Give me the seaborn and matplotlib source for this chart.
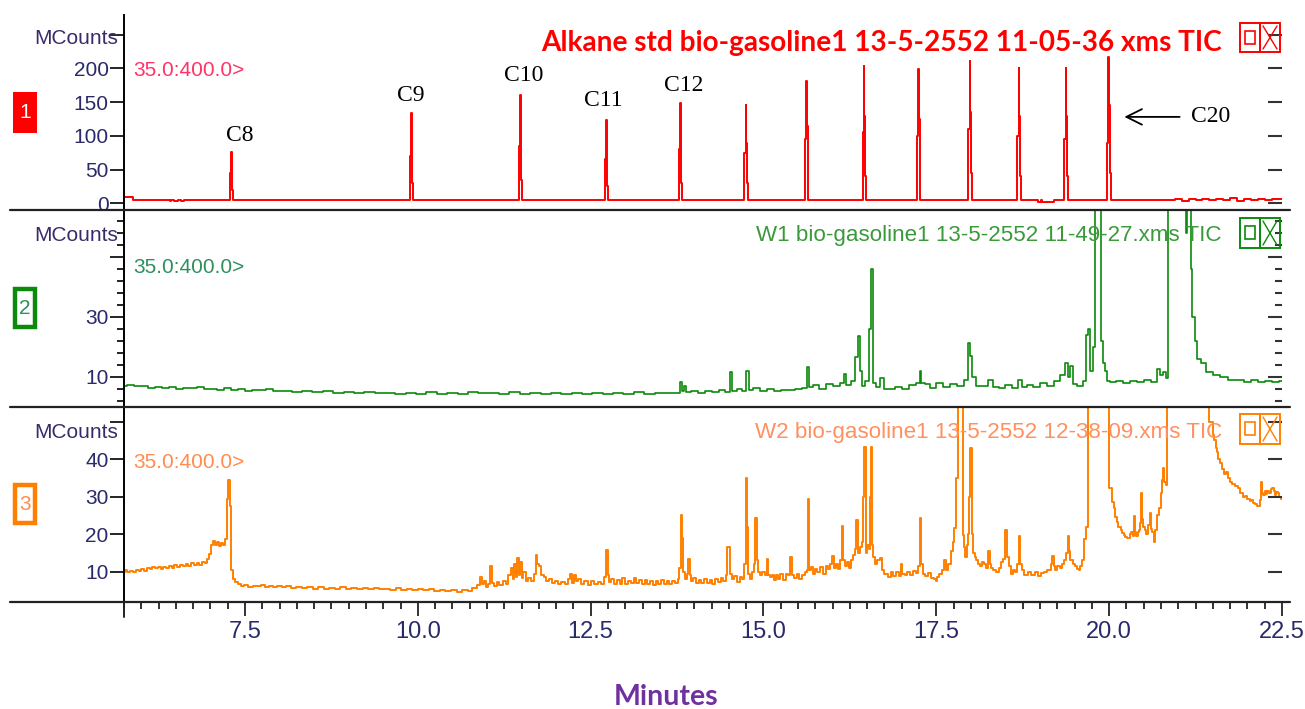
import matplotlib
matplotlib.use("Agg")
import matplotlib.pyplot as plt
from matplotlib.patches import Rectangle
from matplotlib.lines import Line2D
from matplotlib.ticker import MultipleLocator, FixedLocator
import seaborn as sns

# ---------------- data ----------------
x_ticks = [7.5, 10.0, 12.5, 15.0, 17.5, 20.0, 22.5]

red_t = [5.75, 5.87, 5.88, 6.3, 6.4, 6.42, 6.45, 6.5, 6.55, 6.6, 6.65, 6.7, 7.0, 7.27,
         7.295, 7.305, 7.315, 7.322, 7.34,
         7.6, 8.2, 8.8, 9.4, 9.87,
         9.895, 9.905, 9.915, 9.922, 9.94,
         10.4, 11.0, 11.45,
         11.475, 11.485, 11.495, 11.502, 11.52,
         12.0, 12.69,
         12.715, 12.725, 12.735, 12.742, 12.76,
         13.2, 13.76,
         13.785, 13.795, 13.805, 13.812, 13.83,
         14.3, 14.71,
         14.735, 14.745, 14.755, 14.762, 14.78,
         15.2, 15.59,
         15.615, 15.625, 15.635, 15.642, 15.66,
         16.0, 16.42,
         16.445, 16.455, 16.465, 16.472, 16.49,
         16.9, 17.21,
         17.235, 17.245, 17.255, 17.262, 17.28,
         17.6, 17.95,
         17.975, 17.985, 17.995, 18.002, 18.02,
         18.3, 18.66,
         18.685, 18.695, 18.705, 18.712, 18.73,
         18.95, 19.0, 19.02, 19.05, 19.34,
         19.365, 19.375, 19.385, 19.392, 19.41,
         19.7, 19.96,
         19.985, 19.995, 20.005, 20.012, 20.03,
         20.4, 20.9, 21.0, 21.1, 21.2, 21.3, 21.4, 21.5, 21.6, 21.7, 21.8, 21.9, 22.0,
         22.1, 22.2, 22.3, 22.4, 22.5]
red_v = [9.8, 9.8, 5.5, 5.2, 5.0, 3.0, 5.0, 3.2, 5.0, 3.0, 5.0, 4.8, 4.8, 4.7,
         45, 76, 57, 20, 4.6,
         4.6, 4.5, 4.6, 4.4, 4.4,
         70, 134, 85, 30, 4.5,
         4.5, 4.4, 4.5,
         85, 160, 100, 35, 4.5,
         4.5, 4.4,
         65, 123, 80, 25, 4.4,
         4.5, 4.4,
         80, 148, 95, 30, 4.4,
         4.5, 4.4,
         75, 145, 90, 30, 4.4,
         4.5, 4.5,
         95, 181, 115, 40, 4.4,
         4.5, 4.4,
         105, 203, 130, 40, 4.4,
         4.5, 4.4,
         100, 199, 125, 40, 4.4,
         4.5, 4.4,
         110, 211, 135, 45, 4.4,
         4.5, 4.4,
         100, 200, 130, 40, 4.5,
         4.5, 2.5, 4.5, 2.5, 4.4,
         95, 200, 130, 40, 4.4,
         4.5, 4.4,
         90, 217, 145, 45, 4.4,
         4.5, 4.6, 6.5, 4.0, 6.8, 4.2, 7.0, 4.5, 6.6, 4.2, 7.2, 4.0, 6.8,
         4.3, 7.0, 4.5, 6.9, 6.5]

green_t = [5.75, 5.85, 5.95, 6.05, 6.15, 6.25, 6.35, 6.45, 6.55, 6.65, 6.75, 6.85, 6.95,
           7.05, 7.15, 7.25, 7.35, 7.45, 7.55, 7.65, 7.75, 7.85, 7.95, 8.1, 8.25, 8.4,
           8.55, 8.7, 8.85, 9.0, 9.15, 9.3, 9.45, 9.6, 9.75, 9.9, 10.05, 10.2, 10.35,
           10.5, 10.65, 10.8, 10.95, 11.1, 11.25, 11.4, 11.55, 11.7, 11.85, 12.0, 12.15,
           12.3, 12.45, 12.6, 12.75, 12.9, 13.05, 13.2, 13.35, 13.5, 13.65, 13.78, 13.8,
           13.83, 13.86, 13.9, 14.0, 14.1, 14.2, 14.3, 14.4, 14.5, 14.53, 14.57, 14.65,
           14.72, 14.77, 14.81, 14.9, 15.0, 15.1, 15.2, 15.3, 15.4, 15.5, 15.6, 15.65,
           15.68, 15.75, 15.85, 15.95, 16.05, 16.15, 16.18, 16.22, 16.3, 16.35, 16.38,
           16.41, 16.45, 16.5, 16.55, 16.57, 16.6, 16.65, 16.72, 16.76, 16.85, 16.95,
           17.05, 17.15, 17.25, 17.27, 17.3, 17.38, 17.45, 17.55, 17.65, 17.75, 17.85,
           17.95, 17.98, 18.0, 18.04, 18.1, 18.2, 18.3, 18.35, 18.45, 18.55, 18.65,
           18.72, 18.76, 18.85, 18.95, 19.05, 19.15, 19.25, 19.33, 19.38, 19.42, 19.45,
           19.5, 19.58, 19.65, 19.69, 19.71, 19.74, 19.78, 19.8, 19.84, 19.87, 19.89,
           19.92, 19.95, 19.98, 20.05, 20.15, 20.25, 20.35, 20.45, 20.55, 20.65, 20.72,
           20.76, 20.8, 20.84, 20.87, 21.1, 21.12, 21.14, 21.17, 21.19, 21.22, 21.25,
           21.3, 21.36, 21.45, 21.55, 21.65, 21.8, 21.9, 22.0, 22.1, 22.2, 22.3, 22.4,
           22.5]
green_v = [7.0, 7.2, 6.8, 6.9, 6.4, 6.6, 6.2, 6.6, 6.0, 6.3, 6.1, 6.5, 5.8,
           6.0, 5.6, 6.2, 5.7, 5.9, 5.4, 5.6, 5.5, 5.8, 5.2, 5.4, 5.0, 5.3,
           4.9, 5.1, 4.7, 5.0, 4.6, 4.9, 4.5, 4.7, 4.3, 4.6, 4.4, 4.8, 4.3,
           4.6, 4.4, 4.9, 4.5, 4.7, 4.3, 4.8, 4.4, 4.6, 4.3, 4.5, 4.2,
           4.6, 4.3, 4.7, 4.4, 4.6, 4.3, 4.8, 4.4, 4.6, 4.5, 4.7, 8.3,
           5.2, 7.0, 5.0, 5.2, 4.6, 5.4, 4.9, 5.6, 5.0, 11.5, 5.4, 5.8,
           5.2, 11.8, 5.6, 6.3, 5.4, 5.9, 5.3, 5.7, 5.5, 5.9, 6.2, 13.3,
           6.5, 7.2, 6.0, 7.5, 6.8, 8.0, 11.0, 7.2, 8.5, 16.5, 23.5,
           12.0, 7.0, 8.5, 26.0, 46.0, 8.0, 6.5, 9.5, 6.0, 5.8, 6.6,
           5.9, 7.2, 8.0, 12.0, 8.0, 7.5, 6.3, 7.8, 6.5, 7.6, 6.8,
           9.0, 21.3, 17.0, 10.0, 7.0, 6.8, 9.0, 6.5, 6.2, 7.2, 6.4,
           9.0, 6.5, 7.3, 6.7, 7.8, 7.0, 8.5, 10.5, 14.5, 10.0, 13.5,
           7.5, 7.0, 8.5, 24.0, 26.0, 12.0, 20.0, 100, 100, 100, 22.0,
           14.5, 12.0, 8.5, 8.3, 8.6, 8.0, 8.7, 8.2, 8.9, 8.3, 12.5,
           10.5, 11.5, 9.5, 100, 100, 58, 100, 100, 46, 30, 22,
           16, 14.5, 11.5, 10.5, 10.0, 9.0, 8.8, 8.4, 8.8, 8.3, 8.6, 8.4,
           8.5]

orange_pts = [
    (5.75, 9.8), (5.78, 10.4), (5.82, 9.9), (5.86, 10.2), (5.9, 9.8), (5.94, 10.5), (5.98, 10.1),
    (6.02, 10.6), (6.06, 10.2), (6.1, 11.0), (6.14, 10.6), (6.18, 11.3), (6.22, 10.9), (6.26, 11.2),
    (6.3, 10.8), (6.34, 11.3), (6.38, 11.0), (6.42, 11.5), (6.46, 11.1), (6.5, 11.7), (6.54, 11.2),
    (6.58, 11.8), (6.62, 11.4), (6.66, 12.0), (6.7, 11.5), (6.74, 12.2), (6.78, 11.7), (6.82, 12.3),
    (6.86, 11.8), (6.9, 12.5), (6.94, 12.2), (6.97, 13.4), (7.0, 14.6), (7.03, 17.2), (7.05, 18.3),
    (7.08, 17.0), (7.11, 17.8), (7.14, 16.9), (7.17, 17.6), (7.2, 17.0), (7.23, 18.6), (7.25, 29.5),
    (7.27, 34.5), (7.29, 27.5), (7.31, 10.5), (7.34, 8.0), (7.38, 7.2), (7.42, 6.6),
    (7.46, 6.2), (7.52, 6.5), (7.58, 6.0), (7.64, 6.3), (7.7, 6.1), (7.76, 6.5), (7.82, 6.0),
    (7.88, 6.2), (7.94, 5.9), (8.0, 6.3), (8.06, 5.9), (8.12, 6.1), (8.2, 5.7), (8.28, 6.0),
    (8.36, 5.6), (8.44, 5.9), (8.52, 5.5), (8.6, 5.8), (8.68, 5.4), (8.76, 5.7), (8.84, 5.5),
    (8.92, 5.8), (9.0, 5.4), (9.08, 5.7), (9.16, 5.3), (9.24, 5.6), (9.32, 5.4), (9.4, 5.7),
    (9.48, 5.3), (9.56, 5.5), (9.64, 5.2), (9.72, 5.6), (9.8, 5.2), (9.88, 5.5), (9.96, 5.1),
    (10.04, 5.4), (10.12, 5.0), (10.2, 5.3), (10.28, 4.9), (10.36, 5.2), (10.44, 4.8), (10.52, 5.1),
    (10.6, 4.7), (10.68, 5.0), (10.76, 4.8), (10.82, 5.6),
    (10.88, 6.5), (10.91, 8.5), (10.94, 6.8), (10.97, 7.4), (11.0, 6.0), (11.03, 6.6), (11.06, 11.5),
    (11.08, 7.0), (11.12, 6.3), (11.16, 7.2), (11.2, 6.5), (11.25, 7.6), (11.29, 6.8), (11.33, 9.0),
    (11.36, 11.0), (11.38, 8.0), (11.41, 12.0), (11.43, 8.5), (11.45, 13.6), (11.47, 9.0), (11.49, 12.5),
    (11.51, 8.2), (11.54, 10.0), (11.58, 7.5), (11.62, 8.3), (11.66, 7.6), (11.69, 9.5), (11.72, 14.4),
    (11.74, 12.0), (11.77, 11.5), (11.8, 9.0), (11.84, 8.6), (11.88, 7.6), (11.92, 8.0), (11.96, 7.0),
    (12.0, 7.4), (12.05, 6.6), (12.1, 7.2), (12.15, 6.8), (12.19, 8.0), (12.21, 9.3), (12.24, 7.0),
    (12.27, 9.0), (12.3, 7.4), (12.34, 8.0), (12.38, 6.6), (12.43, 7.4), (12.48, 6.5), (12.53, 7.6),
    (12.58, 6.6), (12.63, 7.2), (12.68, 6.8), (12.71, 8.5), (12.74, 15.8), (12.76, 9.0), (12.78, 7.3),
    (12.82, 8.0), (12.86, 6.7), (12.9, 7.8), (12.94, 6.8), (12.98, 8.2), (13.02, 6.6), (13.06, 7.6),
    (13.1, 6.9), (13.14, 8.3), (13.18, 7.0), (13.22, 7.8), (13.26, 6.6), (13.3, 7.9), (13.34, 6.8),
    (13.38, 7.4), (13.42, 6.5), (13.46, 7.6), (13.5, 6.7), (13.54, 7.9), (13.58, 6.8), (13.62, 7.5),
    (13.66, 6.6), (13.7, 7.6), (13.74, 6.9),
    (13.78, 8.0), (13.79, 11.0), (13.81, 25.0), (13.83, 19.0), (13.85, 10.0), (13.88, 8.0), (13.9, 9.5),
    (13.92, 13.3), (13.94, 9.0), (13.97, 7.5), (14.0, 8.2), (14.04, 7.0), (14.08, 7.9), (14.12, 6.9),
    (14.16, 8.1), (14.2, 7.0), (14.24, 7.7), (14.28, 6.8), (14.32, 8.0), (14.36, 7.2), (14.4, 8.4),
    (14.44, 7.6), (14.47, 9.0), (14.48, 16.7), (14.51, 16.5), (14.53, 9.5), (14.56, 8.0), (14.6, 8.8),
    (14.64, 7.2), (14.68, 8.5), (14.71, 8.0), (14.73, 12.0), (14.75, 34.9), (14.77, 22.0), (14.79, 9.5),
    (14.82, 8.0), (14.85, 10.0), (14.87, 12.0), (14.89, 24.4), (14.91, 13.0), (14.94, 10.0), (14.97, 9.0),
    (15.0, 10.0), (15.03, 9.2), (15.06, 13.3), (15.08, 9.0), (15.11, 8.5), (15.14, 9.2), (15.17, 7.8),
    (15.2, 9.0), (15.23, 8.0), (15.26, 9.4), (15.3, 7.8), (15.34, 9.5), (15.38, 9.0), (15.4, 14.0),
    (15.42, 9.0), (15.46, 8.2), (15.5, 9.3), (15.54, 8.0), (15.58, 9.2), (15.62, 10.0), (15.64, 10.5),
    (15.65, 29.3), (15.67, 10.5), (15.7, 11.2), (15.73, 9.5), (15.76, 10.8), (15.8, 9.8), (15.84, 11.2),
    (15.88, 9.5), (15.92, 11.6), (15.95, 10.8), (15.98, 12.0), (16.01, 14.3), (16.03, 11.0), (16.06, 12.0),
    (16.09, 10.8), (16.12, 13.0), (16.14, 22.3), (16.16, 13.0), (16.19, 11.5), (16.22, 12.5), (16.25, 11.0),
    (16.28, 13.0), (16.31, 14.5), (16.33, 16.0), (16.36, 23.8), (16.38, 15.0), (16.41, 16.5), (16.43, 18.0),
    (16.45, 30.0), (16.47, 43.3), (16.49, 15.0), (16.51, 17.0), (16.53, 16.0), (16.55, 30.0), (16.56, 43.3),
    (16.58, 17.0), (16.6, 14.0), (16.63, 12.0), (16.66, 13.0), (16.7, 13.6), (16.73, 10.5), (16.77, 9.5),
    (16.82, 8.5), (16.86, 9.8), (16.9, 8.8), (16.94, 9.8), (16.97, 8.8), (17.0, 12.0), (17.02, 9.5),
    (17.06, 9.0), (17.1, 10.0), (17.14, 9.0), (17.18, 10.2), (17.22, 9.6), (17.25, 11.5), (17.27, 24.2),
    (17.29, 12.0), (17.32, 9.5), (17.36, 8.8), (17.4, 9.6), (17.44, 8.3), (17.48, 8.0), (17.5, 7.5),
    (17.53, 8.6), (17.56, 9.5), (17.6, 10.5), (17.63, 13.0), (17.66, 10.5), (17.69, 12.0), (17.72, 15.5),
    (17.75, 18.0), (17.77, 21.6), (17.8, 35.0), (17.83, 100), (17.87, 100), (17.89, 19.8), (17.91, 16.5),
    (17.93, 14.0), (17.95, 17.0), (17.96, 20.0), (17.98, 30.0), (18.0, 42.9), (18.02, 20.0), (18.04, 15.0),
    (18.07, 14.0), (18.09, 13.0), (18.12, 12.0), (18.15, 11.5), (18.18, 12.5), (18.2, 12.0), (18.23, 11.0),
    (18.26, 15.5), (18.28, 12.0), (18.3, 11.0), (18.34, 10.5), (18.38, 10.0), (18.42, 11.0), (18.45, 12.5),
    (18.48, 13.5), (18.51, 21.1), (18.53, 14.0), (18.56, 11.5), (18.6, 9.5), (18.63, 10.5), (18.66, 10.0),
    (18.68, 12.0), (18.7, 19.5), (18.72, 12.0), (18.75, 10.5), (18.8, 9.0), (18.85, 10.0), (18.9, 9.2),
    (18.95, 9.8), (19.0, 8.8), (19.04, 9.6), (19.08, 9.8), (19.12, 10.5), (19.15, 10.5), (19.17, 12.0),
    (19.19, 14.3), (19.21, 11.5), (19.23, 10.5), (19.27, 11.5), (19.3, 11.0), (19.33, 12.0), (19.36, 13.0),
    (19.39, 15.0), (19.41, 19.5), (19.43, 15.5), (19.45, 13.0), (19.49, 12.0), (19.52, 11.5), (19.55, 10.8),
    (19.57, 10.4), (19.6, 11.5), (19.62, 13.0), (19.65, 18.6), (19.68, 22.0), (19.72, 100),
    (19.97, 100), (20.03, 32.2), (20.06, 28.5), (20.08, 27.0), (20.1, 24.5), (20.12, 23.3), (20.15, 22.0),
    (20.18, 21.0), (20.2, 20.2), (20.22, 19.9), (20.25, 19.2), (20.28, 19.0), (20.31, 20.0), (20.33, 20.5),
    (20.35, 19.5), (20.37, 24.9), (20.39, 20.5), (20.4, 19.5), (20.42, 20.5), (20.44, 21.0), (20.46, 23.0),
    (20.47, 30.9), (20.49, 24.0), (20.5, 22.0), (20.53, 21.0), (20.55, 20.0), (20.58, 22.5), (20.6, 25.6),
    (20.62, 21.5), (20.63, 20.5), (20.66, 18.0), (20.68, 21.0), (20.71, 25.1), (20.73, 27.0), (20.76, 31.0),
    (20.78, 34.5), (20.79, 37.7), (20.81, 34.0), (20.82, 33.1), (20.86, 100), (21.4, 100), (21.49, 50.0),
    (21.51, 46.5), (21.53, 45.0), (21.55, 43.0), (21.57, 42.0), (21.59, 40.0), (21.62, 38.9), (21.65, 37.5),
    (21.68, 36.0), (21.7, 36.5), (21.73, 34.9), (21.76, 34.0), (21.8, 33.5), (21.84, 32.8), (21.88, 32.2),
    (21.91, 31.0), (21.95, 29.8), (21.98, 30.2), (22.02, 29.5), (22.04, 28.8), (22.06, 29.0), (22.09, 28.3),
    (22.12, 28.0), (22.15, 27.6), (22.17, 27.5), (22.19, 29.0), (22.2, 33.9), (22.22, 31.0), (22.24, 30.5),
    (22.26, 31.5), (22.28, 30.6), (22.3, 31.5), (22.33, 31.0), (22.35, 32.0), (22.37, 32.3), (22.39, 31.5),
    (22.41, 30.5), (22.43, 31.2), (22.44, 30.9), (22.47, 30.0), (22.5, 29.5)]
orange_t = [p[0] for p in orange_pts]
orange_v = [p[1] for p in orange_pts]

alkane_labels = ["C8", "C9", "C10", "C11", "C12"]
alkane_label_t = [7.43, 9.90, 11.53, 12.69, 13.84]
alkane_label_v = [101, 160, 190, 153, 174]

titles = ["Alkane std bio-gasoline1 13-5-2552 11-05-36 xms TIC",
          "W1 bio-gasoline1 13-5-2552 11-49-27.xms TIC",
          "W2 bio-gasoline1 13-5-2552 12-38-09.xms TIC"]
mass_range = "35.0:400.0>"

# ---------------- style ----------------
sns.set_theme(style="white")
NARROW = ["Liberation Sans Narrow", "Liberation Sans", "DejaVu Sans"]
plt.rcParams["font.family"] = NARROW
TICKC = "#2a2a6a"
W, H = 1305, 709

fig = plt.figure(figsize=(W / 100, H / 100), dpi=100)
fig.patch.set_facecolor("white")


def fx(px):
    return px / W


def fy(py):
    return 1 - py / H


def rect(top, bot):
    return [fx(124), fy(bot), fx(1282) - fx(124), (bot - top) / H]


panels = [
    dict(top=15, bot=210, t=red_t, v=red_v, col="#ff0000", lw=1.4, ylim=(-10, 279),
         major=[0, 50, 100, 150, 200, 250], labels=[0, 50, 100, 150, 200], minor=None,
         tcol="#ff0000", mcol="#ff3366", num="1", boxcol="#ff0000"),
    dict(top=210, bot=406.7, t=green_t, v=green_v, col="#0b8a0b", lw=1.2, ylim=(0, 65.6),
         major=[10, 30, 50], labels=[10, 30], minor=4,
         tcol="#3a9a3a", mcol="#2f8f5f", num="2", boxcol="#0b8a0b"),
    dict(top=406.7, bot=601.7, t=orange_t, v=orange_v, col="#ff8000", lw=1.4, ylim=(2, 54),
         major=[10, 20, 30, 40, 50], labels=[10, 20, 30, 40], minor=None,
         tcol="#ff9060", mcol="#ff8c50", num="3", boxcol="#ff8000"),
]

axes = []
for p in panels:
    ax = fig.add_axes(rect(p["top"], p["bot"]))
    ax.set_facecolor("none")
    sns.lineplot(x=p["t"], y=p["v"], ax=ax, estimator=None, sort=False,
                 color=p["col"], linewidth=p["lw"], legend=False, drawstyle="steps-mid")
    ax.set_xlim(5.75, 22.5)
    ax.set_ylim(*p["ylim"])
    ax.set_xlabel("")
    ax.set_ylabel("")
    for s in ["top", "right", "bottom"]:
        ax.spines[s].set_visible(False)
    ax.spines["left"].set_color("black")
    ax.spines["left"].set_linewidth(1.4)
    ax.yaxis.set_major_locator(FixedLocator(p["major"]))
    ax.set_yticklabels([str(l) if l in p["labels"] else "" for l in p["major"]])
    if p["minor"]:
        ax.yaxis.set_minor_locator(FixedLocator([2 + 4 * i for i in range(16)]))
    ax.tick_params(axis="y", which="major", direction="out", length=10, width=1.2,
                   color="black", labelcolor=TICKC, labelsize=15, pad=1, left=True)
    ax.tick_params(axis="y", which="minor", direction="out", length=5, width=1.2,
                   color="black", left=True)
    # right-hand inward ticks
    axr = ax.twinx()
    axr.set_ylim(*p["ylim"])
    axr.yaxis.set_major_locator(FixedLocator(p["major"]))
    if p["minor"]:
        axr.yaxis.set_minor_locator(FixedLocator([2 + 4 * i for i in range(16)]))
    axr.tick_params(axis="y", which="major", direction="in", length=10, width=1.5,
                    color="#333333", labelright=False, right=True)
    axr.tick_params(axis="y", which="minor", direction="in", length=5, width=1.5,
                    color="#333333", right=True)
    axr.grid(False)
    for s in axr.spines.values():
        s.set_visible(False)
    ax.grid(False)
    axes.append(ax)

for ax in axes[:2]:
    ax.tick_params(axis="x", which="both", bottom=False, labelbottom=False)

ax3 = axes[2]
ax3.xaxis.set_major_locator(FixedLocator(x_ticks))
ax3.set_xticklabels([f"{v:.1f}" for v in x_ticks])
ax3.xaxis.set_minor_locator(MultipleLocator(0.25))
ax3.tick_params(axis="x", which="major", direction="out", length=10, width=1.4,
                color="#333333", labelcolor=TICKC, labelsize=17, pad=4, bottom=True)
ax3.tick_params(axis="x", which="minor", direction="out", length=5, width=1.4,
                color="#333333", bottom=True)

# separator lines across the whole frame
for yy in [210, 406.7, 601.7]:
    fig.add_artist(Line2D([fx(10), fx(1290)], [fy(yy), fy(yy)], color="#222222", lw=1.6))
fig.add_artist(Line2D([fx(124), fx(124)], [fy(601.7), fy(617)], color="#222222", lw=1.4))

# titles, mass ranges, MCounts, number boxes, icons
title_y = [43, 236, 432]
mass_y = [71, 267, 462]
mc_y = [38, 236, 432]
box_y = [(92, 133), (287, 329), (483, 525)]
icon_y = [(23, 52), (218, 248), (414, 444)]
for i, p in enumerate(panels):
    if i == 0:
        fig.text(fx(1222), fy(title_y[i]), titles[i], ha="right", va="center",
                 color=p["tcol"], fontsize=20.2, fontweight="bold", family=["Lato", "DejaVu Sans"])
    else:
        fig.text(fx(1222), fy(title_y[i]), titles[i], ha="right", va="center",
                 color=p["tcol"], fontsize=16.1, family=NARROW)
    fig.text(fx(133), fy(mass_y[i]), mass_range, ha="left", va="center",
             color=p["mcol"], fontsize=15, family=NARROW)
    fig.text(fx(118), fy(mc_y[i]), "MCounts", ha="right", va="center",
             color="#3a2a6a", fontsize=15, family=NARROW)
    y0, y1 = box_y[i]
    if i == 0:
        fig.add_artist(Rectangle((fx(13), fy(y1)), fx(37) - fx(13), (y1 - y0) / H,
                                 facecolor=p["boxcol"], edgecolor=p["boxcol"], lw=0,
                                 transform=fig.transFigure))
        fig.text(fx(25), fy((y0 + y1) / 2), "1", ha="center", va="center",
                 color="white", fontsize=15, family=NARROW)
    else:
        fig.add_artist(Rectangle((fx(15), fy(y1 - 2)), fx(35) - fx(15), (y1 - y0 - 4) / H,
                                 facecolor="white", edgecolor=p["boxcol"], lw=3.2,
                                 transform=fig.transFigure))
        fig.text(fx(25), fy((y0 + y1) / 2), p["num"], ha="center", va="center",
                 color=p["mcol"], fontsize=15, family=NARROW)
    a0, a1 = icon_y[i]
    ic = p["boxcol"]
    for xl in [1240, 1260]:
        fig.add_artist(Rectangle((fx(xl), fy(a1)), fx(20) - fx(0), (a1 - a0) / H,
                                 facecolor="none", edgecolor=ic, lw=1.4,
                                 transform=fig.transFigure))
    fig.add_artist(Rectangle((fx(1245), fy(a0 + 21)), fx(10) - fx(0), 13 / H,
                             facecolor="none", edgecolor=ic, lw=1.2,
                             transform=fig.transFigure))
    fig.add_artist(Line2D([fx(1263), fx(1277)], [fy(a0 + 3), fy(a1 - 3)], color=ic, lw=1.0))
    fig.add_artist(Line2D([fx(1263), fx(1277)], [fy(a1 - 3), fy(a0 + 3)], color=ic, lw=1.0))

# alkane annotations
ax1 = axes[0]
for lab, t, v in zip(alkane_labels, alkane_label_t, alkane_label_v):
    ax1.text(t, v, lab, ha="center", va="center", fontsize=17, color="black",
             family=["Liberation Serif", "DejaVu Serif"], clip_on=False)
ax1.text(21.47, 128, "C20", ha="center", va="center", fontsize=17, color="black",
         family=["Liberation Serif", "DejaVu Serif"], clip_on=False)
ax1.annotate("", xy=(20.18, 128), xytext=(21.06, 128),
             arrowprops=dict(arrowstyle="->", lw=1.3, color="black", mutation_scale=28))

fig.text(fx(666), fy(697), "Minutes", ha="center", va="center", color="#7030a0",
         fontsize=20.5, fontweight="bold", family=["Lato", "DejaVu Sans"])

fig.savefig("out.png", dpi=100, facecolor="white")
